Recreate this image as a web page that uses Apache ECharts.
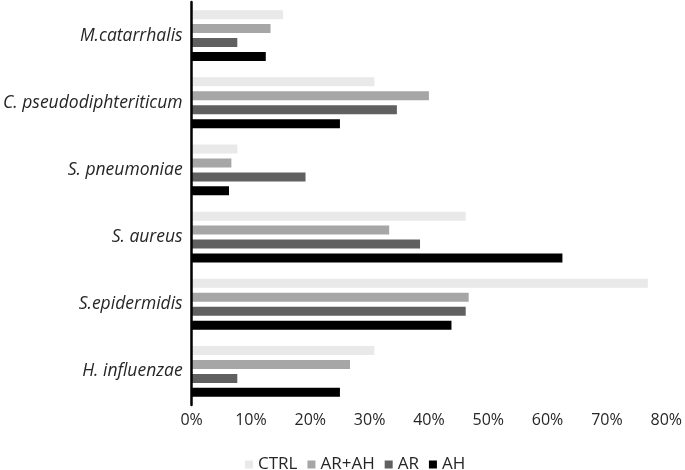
<!DOCTYPE html>
<html>
<head>
<meta charset="utf-8">
<script src="https://cdn.jsdelivr.net/npm/echarts@6/dist/echarts.min.js"></script>
<style>
html,body{margin:0;padding:0;background:#fff;}
#chart{width:685px;height:470px;}
</style>
</head>
<body>
<div id="chart"></div>
<script>
var categories = ['M.catarrhalis', 'C. pseudodiphteriticum', 'S. pneumoniae', 'S. aureus', 'S.epidermidis', 'H. influenzae'];
var seriesNames = ['CTRL', 'AR+AH', 'AR', 'AH'];
var ctrl = [15.4, 30.8, 7.7, 46.2, 76.9, 30.8];
var arah = [13.3, 40.0, 6.7, 33.3, 46.7, 26.7];
var ar = [7.7, 34.6, 19.2, 38.5, 46.2, 7.7];
var ah = [12.5, 25.0, 6.3, 62.5, 43.8, 25.0];
var xTicks = [0, 10, 20, 30, 40, 50, 60, 70, 80];

var colors = ['#e9e9e9', '#a6a6a6', '#606060', '#000000'];
var values = [ctrl, arah, ar, ah];
var font = '"Open Sans", "Noto Sans", sans-serif';

var chart = echarts.init(document.getElementById('chart'), null, {renderer: 'canvas'});
chart.setOption({
  animation: false,
  color: colors,
  textStyle: {fontFamily: font},
  legend: {
    data: seriesNames,
    left: 240,
    top: 451,
    itemWidth: 8,
    itemHeight: 8,
    itemGap: 10,
    icon: 'rect',
    textStyle: {fontSize: 17, color: '#262626', fontFamily: font}
  },
  grid: {left: 190, right: 18, top: 2, height: 403, containLabel: false},
  xAxis: {
    type: 'value',
    min: xTicks[0],
    max: xTicks[xTicks.length - 1],
    interval: 10,
    axisLine: {show: false},
    axisTick: {show: false},
    splitLine: {show: false},
    axisLabel: {
      formatter: '{value}%',
      fontSize: 16,
      color: '#262626',
      margin: 7,
      fontFamily: font
    }
  },
  yAxis: {
    type: 'category',
    data: categories,
    inverse: true,
    z: 5,
    axisLine: {show: true, lineStyle: {color: '#000', width: 2.5}},
    axisTick: {show: false},
    axisLabel: {
      fontSize: 17.5,
      fontStyle: 'italic',
      color: '#262626',
      margin: 9,
      fontFamily: font
    }
  },
  series: seriesNames.map(function (n, i) {
    return {
      name: n,
      type: 'bar',
      data: values[i],
      barWidth: 9,
      barGap: '55%',
      itemStyle: {color: colors[i]}
    };
  })
});
</script>
</body>
</html>
